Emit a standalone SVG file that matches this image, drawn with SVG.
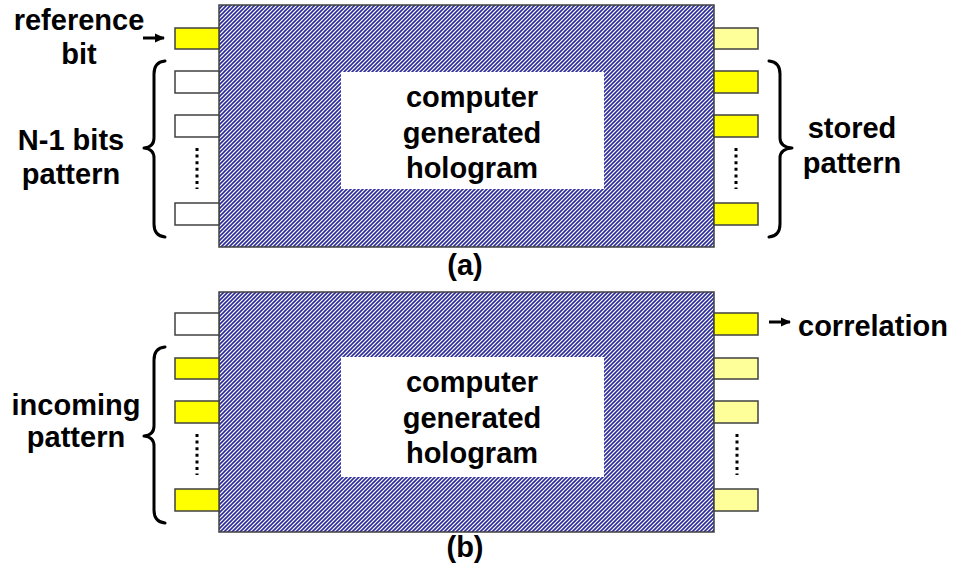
<svg xmlns="http://www.w3.org/2000/svg" width="953" height="574" viewBox="0 0 953 574">
<defs>
<pattern id="hatch" patternUnits="userSpaceOnUse" width="4" height="4">
<rect width="4" height="4" fill="#ffffff"/>
<path d="M-1,1 L1,-1 M0,4 L4,0 M3,5 L5,3" stroke="#2a2a9a" stroke-width="1.6"/>
</pattern>
<marker id="arr" markerWidth="10" markerHeight="10" refX="9" refY="5" orient="auto" markerUnits="userSpaceOnUse">
<path d="M0,0.5 L10,5 L0,9.5 Z" fill="#000"/>
</marker>
</defs>
<style>
.holo{fill:url(#hatch);stroke:#404040;stroke-width:1.5}
.win{fill:#ffffff;stroke:none}
.bar{stroke:#404040;stroke-width:1.5}
.y{fill:#ffff00}
.ly{fill:#ffff99}
.w{fill:#ffffff}
.t{font-family:"Liberation Sans",Arial,sans-serif;font-weight:bold;font-size:29px;fill:#000}
.c{text-anchor:middle}
.brace{fill:none;stroke:#000;stroke-width:3;stroke-linecap:round;stroke-linejoin:round}
.dots{stroke:#000;stroke-width:3;stroke-dasharray:3 3.6}
.conn{stroke:#000;stroke-width:3;fill:none}
</style>

<g id="hologram-a">
<rect class="holo" x="219" y="5" width="495" height="242"/>
<rect class="win" x="341" y="72" width="263" height="117"/>
<text class="t c" x="472" y="107">computer</text>
<text class="t c" x="472" y="143">generated</text>
<text class="t c" x="472" y="178">hologram</text>
</g>
<g id="inputs-a">
<rect class="bar y" x="175" y="28" width="44" height="21"/>
<rect class="bar w" x="175" y="71" width="44" height="22"/>
<rect class="bar w" x="175" y="115" width="44" height="22"/>
<rect class="bar w" x="175" y="203" width="44" height="22"/>
<line class="dots" x1="197" y1="148" x2="197" y2="189"/>
</g>
<g id="outputs-a">
<rect class="bar ly" x="714" y="28" width="44" height="21"/>
<rect class="bar y" x="714" y="71" width="44" height="22"/>
<rect class="bar y" x="714" y="115" width="44" height="22"/>
<rect class="bar y" x="714" y="203" width="44" height="22"/>
<line class="dots" x1="736" y1="148" x2="736" y2="189"/>
</g>
<g id="label-reference-bit">
<text class="t c" x="79" y="30">reference</text>
<text class="t c" x="79" y="64">bit</text>
</g>
<g id="label-n1-bits">
<path class="brace" d="M165,61 Q154,62 154,74 L154,138 Q154,147 144,148 Q154,149 154,158 L154,224 Q154,236 165,237"/>
<text class="t c" x="71" y="150">N-1 bits</text>
<text class="t c" x="71" y="184">pattern</text>
</g>
<g id="label-stored">
<path class="brace" d="M769,61 Q780,62 780,74 L780,138 Q780,147 792,148 Q780,149 780,158 L780,224 Q780,236 769,237"/>
<text class="t c" x="852" y="138">stored</text>
<text class="t c" x="852" y="173">pattern</text>
</g>
<text class="t c" x="465" y="275">(a)</text>

<g id="hologram-b">
<rect class="holo" x="219" y="292" width="495" height="240"/>
<rect class="win" x="341" y="357" width="263" height="120"/>
<text class="t c" x="472" y="392">computer</text>
<text class="t c" x="472" y="428">generated</text>
<text class="t c" x="472" y="463">hologram</text>
</g>
<g id="inputs-b">
<rect class="bar w" x="175" y="313" width="44" height="22"/>
<rect class="bar y" x="175" y="358" width="44" height="21"/>
<rect class="bar y" x="175" y="401" width="44" height="22"/>
<rect class="bar y" x="175" y="489" width="44" height="22"/>
<line class="dots" x1="197" y1="434" x2="197" y2="475"/>
</g>
<g id="outputs-b">
<rect class="bar y" x="714" y="313" width="44" height="22"/>
<rect class="bar ly" x="714" y="358" width="44" height="21"/>
<rect class="bar ly" x="714" y="401" width="44" height="22"/>
<rect class="bar ly" x="714" y="489" width="44" height="22"/>
<line class="dots" x1="737" y1="434" x2="737" y2="475"/>
</g>
<g id="label-incoming">
<path class="brace" d="M165,347 Q154,348 154,360 L154,426 Q154,435 144,436 Q154,437 154,446 L154,510 Q154,522 165,523"/>
<text class="t c" x="76" y="415">incoming</text>
<text class="t c" x="76" y="447">pattern</text>
</g>
<g id="label-correlation">
<text class="t" x="798" y="336">correlation</text>
</g>
<text class="t c" x="465" y="557">(b)</text>

<g id="connectors">
<line class="conn" x1="143" y1="38" x2="164" y2="38" marker-end="url(#arr)"/>
<line class="conn" x1="769" y1="322" x2="790" y2="322" marker-end="url(#arr)"/>
</g>
</svg>
